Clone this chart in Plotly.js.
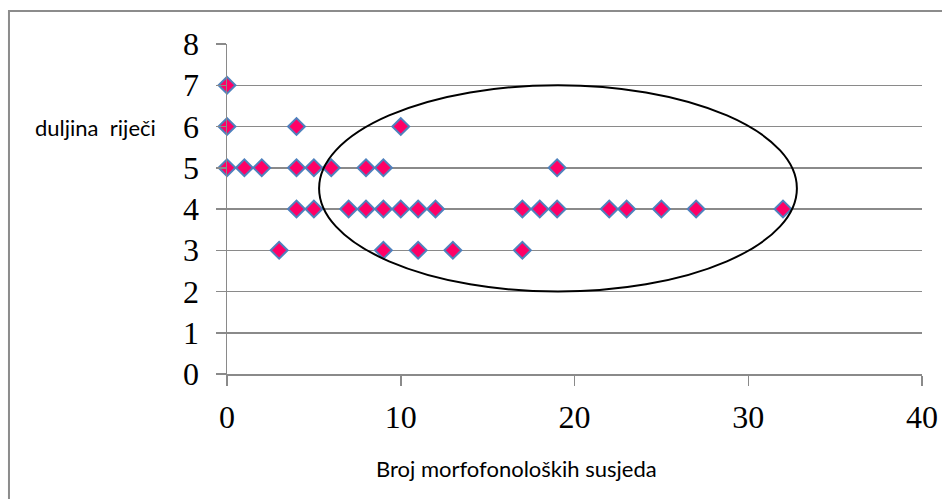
<!DOCTYPE html>
<html>
<head>
<meta charset="utf-8">
<script src="https://cdn.plot.ly/plotly-3.0.1.min.js"></script>
<style>
  html, body { margin: 0; padding: 0; background: #ffffff; }
  #chart { width: 942px; height: 499px; }
</style>
</head>
<body>
<div id="chart"></div>
<script>
// Broj morfofonoloških susjeda (x) vs. duljina riječi (y)
const neighbours = [0, 0, 4, 10, 0, 1, 2, 4, 5, 6, 8, 9, 19,
                    4, 5, 7, 8, 9, 10, 11, 12, 17, 18, 19, 22, 23, 25, 27, 32,
                    3, 9, 11, 13, 17];
const wordLength = [7, 6, 6, 6, 5, 5, 5, 5, 5, 5, 5, 5, 5,
                    4, 4, 4, 4, 4, 4, 4, 4, 4, 4, 4, 4, 4, 4, 4, 4,
                    3, 3, 3, 3, 3];
const xTicks = [0, 10, 20, 30, 40];
const yTicks = [0, 1, 2, 3, 4, 5, 6, 7, 8];
const xTitle = 'Broj morfofonoloških susjeda';
const yTitle = 'duljina&nbsp;&nbsp;riječi';

const trace = {
  type: 'scatter',
  mode: 'markers',
  x: neighbours,
  y: wordLength,
  cliponaxis: false,
  hoverinfo: 'x+y',
  marker: {
    symbol: 'diamond',
    size: 13,
    color: '#FF0066',
    line: { color: '#4F81BD', width: 2 }
  }
};

const gray = '#8a8a8a';
const serif = 'Liberation Serif, Times New Roman, serif';
const sans = 'Lato, Carlito, Calibri, sans-serif';

const layout = {
  width: 942,
  height: 499,
  margin: { l: 227, r: 20, t: 44, b: 125 },
  paper_bgcolor: '#ffffff',
  plot_bgcolor: '#ffffff',
  showlegend: false,
  xaxis: {
    range: [0, 40],
    tickvals: xTicks,
    ticktext: xTicks.map(String),
    showgrid: false,
    zeroline: false,
    showline: true,
    linecolor: gray,
    linewidth: 1.5,
    ticks: 'outside',
    ticklen: 10,
    tickwidth: 1.5,
    tickcolor: gray,
    ticklabelstandoff: 4,
    tickfont: { family: serif, size: 32, color: '#000000' },
    fixedrange: true
  },
  yaxis: {
    range: [0, 8],
    tickvals: yTicks,
    ticktext: yTicks.map(String),
    showgrid: true,
    gridcolor: gray,
    gridwidth: 1.5,
    zeroline: false,
    showline: true,
    linecolor: gray,
    linewidth: 1.5,
    ticks: 'outside',
    ticklen: 10,
    tickwidth: 1.5,
    tickcolor: gray,
    ticklabelstandoff: 10,
    tickfont: { family: serif, size: 32, color: '#000000' },
    fixedrange: true
  },
  shapes: [
    {
      type: 'rect', xref: 'paper', yref: 'paper',
      x0: -0.3137, x1: 1.2, y0: -0.6, y1: 1.1,
      line: { color: '#8c8c8c', width: 2 },
      fillcolor: 'rgba(0,0,0,0)', layer: 'below'
    },
    {
      type: 'circle', xref: 'x', yref: 'y',
      x0: 5.3, x1: 32.8, y0: 2.0, y1: 7.0,
      line: { color: '#000000', width: 2 },
      fillcolor: 'rgba(0,0,0,0)', layer: 'above'
    }
  ],
  annotations: [
    {
      text: yTitle, xref: 'paper', yref: 'paper',
      x: -0.1885, y: 0.748, xanchor: 'center', yanchor: 'middle',
      showarrow: false,
      font: { family: sans, size: 22, color: '#000000' }
    },
    {
      text: xTitle, xref: 'paper', yref: 'paper',
      x: 0.417, y: -0.285, xanchor: 'center', yanchor: 'middle',
      showarrow: false,
      font: { family: sans, size: 22, color: '#000000' }
    }
  ]
};

Plotly.newPlot('chart', [trace], layout, { displayModeBar: false, staticPlot: true });
</script>
</body>
</html>
